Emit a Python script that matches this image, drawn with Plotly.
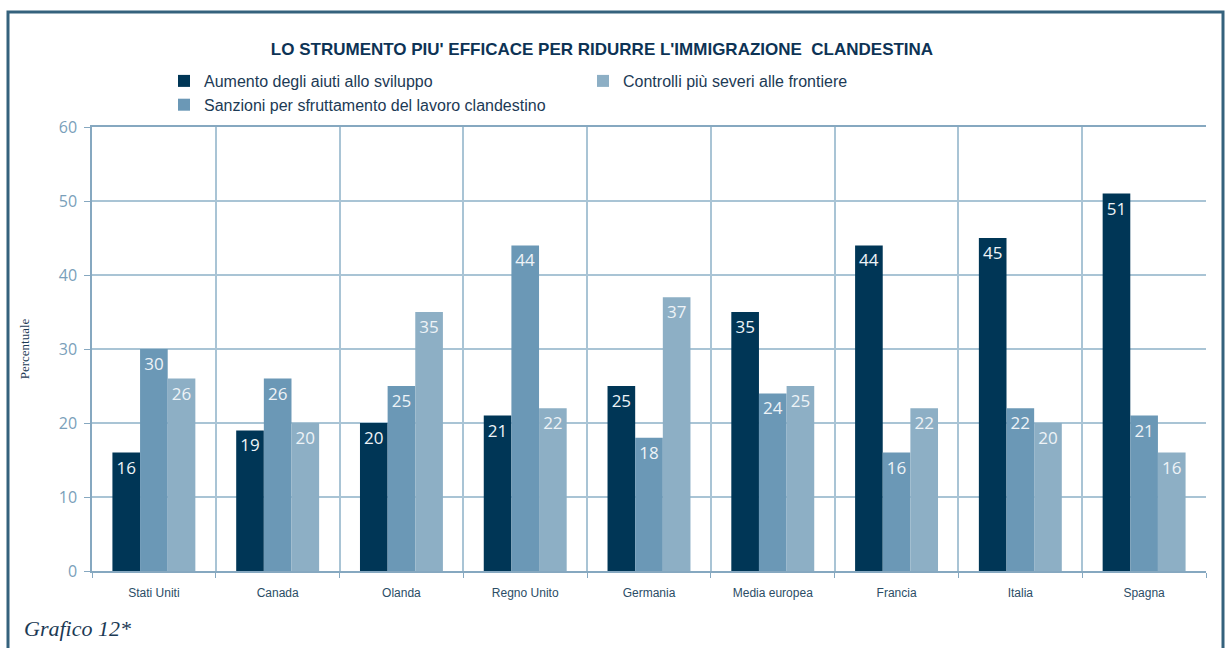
import plotly.graph_objects as go

categories = ["Stati Uniti", "Canada", "Olanda", "Regno Unito", "Germania",
              "Media europea", "Francia", "Italia", "Spagna"]
aumento = [16, 19, 20, 21, 25, 35, 44, 45, 51]
sanzioni = [30, 26, 25, 44, 18, 24, 16, 22, 21]
controlli = [26, 20, 35, 22, 37, 25, 22, 20, 16]
y_ticks = [0, 10, 20, 30, 40, 50, 60]

series = [
    ("Aumento degli aiuti allo sviluppo", aumento, "#003656", 1),
    ("Sanzioni per sfruttamento del lavoro clandestino", sanzioni, "#6b98b6", 3),
    ("Controlli più severi alle frontiere", controlli, "#8dafc5", 2),
]

W, H = 1226, 648
L, R, T, B = 92, 20, 127, 77
pw, ph = W - L - R, H - T - B
Y0 = H - B  # pixel row of y=0


def py(p):
    return (Y0 - p) / ph


def px(p):
    return (p - L) / pw


fig = go.Figure()
for name, vals, color, rank in series:
    fig.add_trace(go.Bar(
        name=name, x=categories, y=vals, marker=dict(color=color, line=dict(width=0)),
        text=[str(v) for v in vals], textposition="inside", insidetextanchor="end",
        textangle=0,
        textfont=dict(family="Open Sans, DejaVu Sans, sans-serif", size=17, color="#eef3f7"),
        legendrank=rank,
    ))

grid_c = "#a9c4d5"
axis_c = "#86a8c0"
fig.update_layout(
    width=W, height=H,
    margin=dict(l=L, r=R, t=T, b=B),
    paper_bgcolor="white", plot_bgcolor="white",
    barmode="group", bargap=0.33, bargroupgap=0,
    title=dict(text="<b>LO STRUMENTO PIU' EFFICACE PER RIDURRE L'IMMIGRAZIONE  CLANDESTINA</b>",
               x=px(602), xref="paper", xanchor="center",
               y=1 - 49 / H, yanchor="middle",
               font=dict(family="Liberation Sans Narrow, Arial Narrow, sans-serif", size=17, color="#0d3355")),
    legend=dict(orientation="h", x=px(164), xanchor="left",
                y=py(64), yanchor="top",
                entrywidth=374, traceorder="normal",
                font=dict(family="Liberation Sans Narrow, Arial Narrow, sans-serif", size=16, color="#1c3a55"),
                itemwidth=30, tracegroupgap=0, bgcolor="rgba(0,0,0,0)"),
    showlegend=True,
    xaxis=dict(type="category", range=[-0.5, 8.5], tickson="boundaries",
               showgrid=True, gridcolor=grid_c, gridwidth=1.5,
               showline=True, linecolor=axis_c, linewidth=1.5, mirror=True,
               ticks="outside", ticklen=5, tickcolor=axis_c, ticklabelstandoff=10,
               tickfont=dict(family="Liberation Sans Narrow, Arial Narrow, sans-serif", size=12, color="#2b4d66"),
               fixedrange=True),
    yaxis=dict(range=[0, 60], tickvals=y_ticks, showgrid=True, gridcolor=grid_c, gridwidth=1.5,
               showline=True, linecolor=axis_c, linewidth=1.5,
               ticks="outside", ticklen=6, tickcolor=axis_c, ticklabelstandoff=4,
               tickfont=dict(family="Open Sans, DejaVu Sans, sans-serif", size=16, color="#7a9fba"),
               title=dict(text="Percentuale", standoff=26,
                          font=dict(family="Liberation Serif, DejaVu Serif, serif", size=13, color="#1c3a55")),
               zeroline=False, fixedrange=True),
)

# outer frame
fig.add_shape(type="rect", xref="paper", yref="paper",
              x0=px(8), x1=px(1223), y0=py(670), y1=py(12),
              line=dict(color="#35627d", width=3), fillcolor="rgba(0,0,0,0)", layer="below")

fig.add_annotation(text="<i>Grafico 12*</i>", xref="paper", yref="paper",
                   x=px(22), xanchor="left", y=py(628), yanchor="middle",
                   showarrow=False,
                   font=dict(family="Liberation Serif, DejaVu Serif, serif", size=22, color="#1c3a55"))

fig.write_html("out.html")
